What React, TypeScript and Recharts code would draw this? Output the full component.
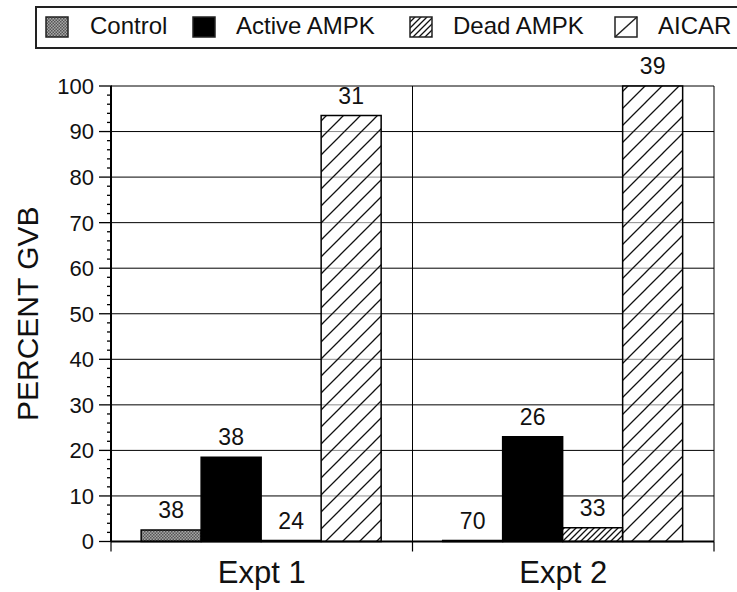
import { BarChart, Bar, XAxis, YAxis, CartesianGrid, LabelList } from "recharts";

const FONT = '"Liberation Sans", Arial, Helvetica, sans-serif';

const experiments = ["Expt 1", "Expt 2"];

// percent GVB per condition
const control = [2.5, 0];
const activeAmpk = [18.5, 23];
const deadAmpk = [0, 3];
const aicar = [93.5, 100];

// number of oocytes scored, printed above each bar
const controlN = [38, 70];
const activeN = [38, 26];
const deadN = [24, 33];
const aicarN = [31, 39];

const yTicks = [0, 10, 20, 30, 40, 50, 60, 70, 80, 90, 100];
const minorTicks = Array.from({ length: 51 }, (_, i) => i * 2);

const data = experiments.map((name, i) => ({
  name,
  control: control[i],
  controlN: controlN[i],
  active: activeAmpk[i],
  activeN: activeN[i],
  dead: deadAmpk[i],
  deadN: deadN[i],
  aicar: aicar[i],
  aicarN: aicarN[i],
}));

const SERIES = [
  { key: "control", label: "Control", fill: "control" },
  { key: "active", label: "Active AMPK", fill: "active" },
  { key: "dead", label: "Dead AMPK", fill: "dead" },
  { key: "aicar", label: "AICAR", fill: "aicar" },
];

// legend layout: swatch x, text x
const LEGEND_POS = [
  [46, 90],
  [193, 236],
  [410, 453],
  [615, 658],
];

const Y_TICK_SIZE = 12;
const Y_TICK_MARGIN = 5;
const X_TICK_MARGIN = 19;

// left axis: long ticks with labels every 10, short ticks every 2
function YTick(props: any) {
  const { x, y, payload } = props;
  const ax = x + Y_TICK_MARGIN + Y_TICK_SIZE;
  const major = payload.value % 10 === 0;
  return (
    <g>
      <line
        x1={major ? ax - Y_TICK_SIZE : ax - 4}
        x2={ax + 1}
        y1={y}
        y2={y}
        stroke="#000"
        strokeWidth={1.3}
      />
      {major && (
        <text x={x} y={y} dy="0.36em" textAnchor="end" fontSize={22} fill="#111">
          {payload.value}
        </text>
      )}
    </g>
  );
}

// category label plus the separator stubs below the axis
function XTick(props: any) {
  const { x, y, payload, index } = props;
  const axisY = y - X_TICK_MARGIN;
  const half = payload.offset ?? 0;
  return (
    <g>
      {half > 0 && (
        <line x1={x - half} x2={x - half} y1={axisY} y2={axisY + 10} stroke="#000" strokeWidth={1.2} />
      )}
      {half > 0 && index === experiments.length - 1 && (
        <line x1={x + half} x2={x + half} y1={axisY} y2={axisY + 10} stroke="#000" strokeWidth={1.2} />
      )}
      <text x={x} y={y} dy="0.71em" textAnchor="middle" fontSize={31} fill="#111">
        {payload.value}
      </text>
    </g>
  );
}

// grid rows every 10 %
const gridRows = ({ yAxis, offset }: any) =>
  yTicks.map((v) =>
    yAxis && typeof yAxis.scale === "function"
      ? yAxis.scale(v)
      : offset.top + offset.height * (1 - v / 100)
  );

// grid columns at the plot edges and between experiments
const gridCols = ({ offset }: any) => {
  const band = offset.width / experiments.length;
  return Array.from({ length: experiments.length + 1 }, (_, i) => offset.left + band * i);
};

function Patterns({ prefix }: { prefix: string }) {
  return (
    <defs>
      <pattern id={`${prefix}-control`} width="3" height="3" patternUnits="userSpaceOnUse">
        <rect width="3" height="3" fill="#a8a8a8" />
        <rect width="1.5" height="1.5" fill="#555" />
        <rect x="1.5" y="1.5" width="1.5" height="1.5" fill="#555" />
      </pattern>
      <pattern id={`${prefix}-dead`} width="6" height="6" patternUnits="userSpaceOnUse">
        <rect width="6" height="6" fill="#fff" />
        <path d="M0,6 L6,0 M-1.5,1.5 L1.5,-1.5 M4.5,7.5 L7.5,4.5" stroke="#111" strokeWidth="1.3" />
      </pattern>
      <pattern id={`${prefix}-aicar`} width="17" height="17" patternUnits="userSpaceOnUse">
        <rect width="17" height="17" fill="#fff" fillOpacity="0.55" />
        <path d="M0,17 L17,0 M-4,4 L4,-4 M13,21 L21,13" stroke="#111" strokeWidth="1.3" />
      </pattern>
    </defs>
  );
}

const fillFor = (prefix: string, kind: string) =>
  kind === "active" ? "#000" : `url(#${prefix}-${kind})`;

function LegendBox() {
  return (
    <svg
      width={737}
      height={55}
      style={{ position: "absolute", left: 0, top: 0 }}
      fontFamily={FONT}
    >
      <Patterns prefix="lg" />
      <rect x={36} y={7} width={720} height={41} fill="#fff" stroke="#222" strokeWidth={2} />
      {SERIES.map((s, i) => {
        const [sx, tx] = LEGEND_POS[i];
        return (
          <g key={s.key}>
            <rect
              x={sx}
              y={17}
              width={22}
              height={20}
              fill={s.fill === "aicar" ? "#fff" : fillFor("lg", s.fill)}
              stroke="#222"
              strokeWidth={1.5}
            />
            {s.fill === "aicar" && (
              <line x1={sx} y1={37} x2={sx + 22} y2={17} stroke="#222" strokeWidth={1.5} />
            )}
            <text x={tx} y={34} fontSize={24} fill="#111">
              {s.label}
            </text>
          </g>
        );
      })}
    </svg>
  );
}

export default function App() {
  return (
    <div
      style={{
        position: "absolute",
        left: 0,
        top: 0,
        width: 737,
        height: 592,
        background: "#fff",
        fontFamily: FONT,
      }}
    >
      <BarChart
        width={737}
        height={592}
        data={data}
        margin={{ top: 86, right: 23, bottom: 0, left: 0 }}
        barCategoryGap="10%"
        barGap={0}
      >
        <Patterns prefix="bar" />
        <XAxis
          dataKey="name"
          height={50.5}
          tickLine={false}
          tickSize={0}
          tickMargin={X_TICK_MARGIN}
          axisLine={{ stroke: "#000", strokeWidth: 2 }}
          tick={XTick}
        />
        <YAxis
          domain={[0, 100]}
          ticks={minorTicks}
          interval={0}
          width={111}
          tickSize={Y_TICK_SIZE}
          tickMargin={Y_TICK_MARGIN}
          tickLine={false}
          axisLine={{ stroke: "#000", strokeWidth: 2 }}
          tick={YTick}
          label={{
            value: "PERCENT GVB",
            angle: -90,
            position: "insideLeft",
            offset: 27,
            fontSize: 30,
            fill: "#111",
            style: { textAnchor: "middle" },
          }}
        />
        <CartesianGrid
          stroke="#000"
          strokeWidth={1}
          horizontalCoordinatesGenerator={gridRows}
          verticalCoordinatesGenerator={gridCols}
        />
        {SERIES.map((s) => (
          <Bar
            key={s.key}
            dataKey={s.key}
            name={s.label}
            fill={fillFor("bar", s.fill)}
            stroke="#000"
            strokeWidth={1.5}
            minPointSize={1}
            isAnimationActive={false}
          >
            <LabelList
              dataKey={`${s.key}N`}
              position="top"
              offset={12}
              fontSize={23}
              fill="#111"
            />
          </Bar>
        ))}
      </BarChart>
      <LegendBox />
    </div>
  );
}
